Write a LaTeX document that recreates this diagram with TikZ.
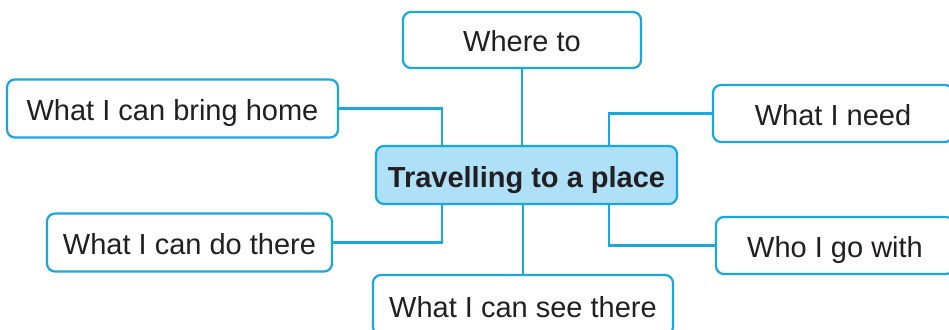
\documentclass[tikz,border=0pt]{standalone}
\usepackage{fontspec}
\setmainfont{Liberation Sans}
\usetikzlibrary{positioning}
\definecolor{cyanline}{HTML}{1AA7E0}
\definecolor{hubfill}{HTML}{AEE0F8}
\definecolor{ink}{HTML}{231F20}
\tikzset{link/.style={line width=2.2pt,draw=cyanline},
  topic/.style={rounded corners=8pt,draw=cyanline,line width=2.2pt,fill=white,text=ink,inner sep=0pt,text height=24pt,text depth=0pt,font=\fontsize{29}{34}\selectfont},
  hubbox/.style={topic,fill=hubfill,font=\fontsize{29}{34}\selectfont\bfseries}}
\begin{document}
\begin{tikzpicture}[x=1pt,y=-1pt]
\useasboundingbox (0,0) rectangle (949,329);
\node[hubbox,minimum width=301pt,minimum height=58pt] (hub) at (526.5,175) {Travelling to a place};
\node[topic,minimum width=238pt,minimum height=56pt] (whereto) at (522,40) {Where to};
\node[topic,minimum width=331pt,minimum height=58pt] (bring) at (172.5,108.5) {What I can bring home};
\node[topic,minimum width=240pt,minimum height=57pt] (need) at (833,113.5) {What I need};
\node[topic,minimum width=285pt,minimum height=58pt] (dothere) at (189.5,242.5) {What I can do there};
\node[topic,minimum width=238pt,minimum height=57pt] (gowith) at (835,245.5) {Who I go with};
\node[topic,minimum width=300pt,minimum height=60pt] (seethere) at (523,305) {What I can see there};
% connectors
\draw[link] (whereto.south) -- (whereto.south |- hub.north);
\draw[link] (seethere.north) -- (seethere.north |- hub.south);
\draw[link] (bring.east) -| ([xshift=-84.5pt]hub.north);
\draw[link] (dothere.east) -| ([xshift=-84.5pt]hub.south);
\draw[link] (need.west) -| ([xshift=82.5pt]hub.north);
\draw[link] (gowith.west) -| ([xshift=82.5pt]hub.south);
\end{tikzpicture}
\end{document}
